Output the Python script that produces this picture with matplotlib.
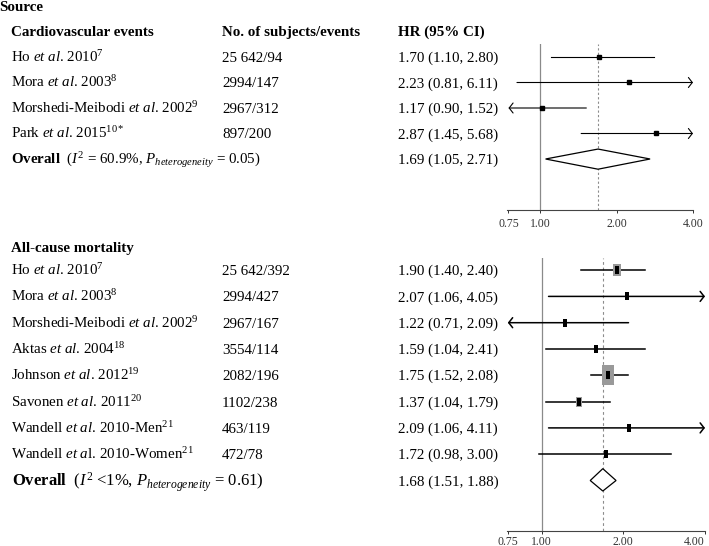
import matplotlib
matplotlib.use("Agg")
import matplotlib.pyplot as plt
from matplotlib.transforms import blended_transform_factory, offset_copy
from matplotlib.ticker import NullLocator

plt.rcParams["font.family"] = ["Liberation Serif", "DejaVu Serif"]
plt.rcParams["mathtext.fontset"] = "custom"
plt.rcParams["mathtext.rm"] = "Liberation Serif"
plt.rcParams["mathtext.it"] = "Liberation Serif:italic"
plt.rcParams["mathtext.bf"] = "Liberation Serif:bold"

# --- Cardiovascular events ---
cv_names = [r"Ho $\mathit{et\ al}$. 2010$^{7}$",
            r"Mora $\mathit{et\ al}$. 2003$^{8}$",
            r"Morshedi-Meibodi $\mathit{et\ al}$. 2002$^{9}$",
            r"Park $\mathit{et\ al}$. 2015$^{10*}$"]
cv_counts = ["25 642/94", "2994/147", "2967/312", "897/200"]
cv_hr_text = ["1.70 (1.10, 2.80)", "2.23 (0.81, 6.11)",
              "1.17 (0.90, 1.52)", "2.87 (1.45, 5.68)"]
# positions of the marks as they are drawn in the picture
cv_est = [1.70, 2.23, 1.02, 2.87]
cv_lo = [1.10, 0.81, 0.70, 1.45]
cv_hi = [2.80, 6.11, 1.52, 5.68]
cv_overall = [1.69, 1.05, 2.71]
cv_overall_label = r"$\mathbf{Overall}$  ($I^2$ = 60.9%, $P_{heterogeneity}$ = 0.05)"
cv_overall_text = "1.69 (1.05, 2.71)"

# --- All-cause mortality ---
ac_names = [r"Ho $\mathit{et\ al}$. 2010$^{7}$",
            r"Mora $\mathit{et\ al}$. 2003$^{8}$",
            r"Morshedi-Meibodi $\mathit{et\ al}$. 2002$^{9}$",
            r"Aktas $\mathit{et\ al}$. 2004$^{18}$",
            r"Johnson $\mathit{et\ al}$. 2012$^{19}$",
            r"Savonen $\mathit{et\ al}$. 2011$^{20}$",
            r"Wandell $\mathit{et\ al}$. 2010-Men$^{21}$",
            r"Wandell $\mathit{et\ a}$l. 2010-Women$^{21}$"]
ac_counts = ["25 642/392", "2994/427", "2967/167", "3554/114",
             "2082/196", "1102/238", "463/119", "472/78"]
ac_hr_text = ["1.90 (1.40, 2.40)", "2.07 (1.06, 4.05)", "1.22 (0.71, 2.09)",
              "1.59 (1.04, 2.41)", "1.75 (1.52, 2.08)", "1.37 (1.04, 1.79)",
              "2.09 (1.06, 4.11)", "1.72 (0.98, 3.00)"]
ac_est = [1.90, 2.07, 1.22, 1.59, 1.75, 1.37, 2.09, 1.72]
ac_lo = [1.40, 1.06, 0.71, 1.04, 1.52, 1.04, 1.06, 0.98]
ac_hi = [2.40, 4.05, 2.09, 2.41, 2.08, 1.79, 4.11, 3.00]
ac_weight_box = [8.6, 5.8, 5.8, 5.8, 13.7, 7.9, 5.8, 5.8]  # gray box height (pt)
ac_overall = [1.68, 1.51, 1.88]
ac_overall_label = r"$\mathbf{Overall}$  ($I^2$ <1%, $P_{heterogeneity}$ = 0.61)"
ac_overall_text = "1.68 (1.51, 1.88)"

tick_vals = [0.75, 1.0, 2.0, 4.0]
tick_labels = ["0.75", "1.00", "2.00", "4.00"]

W, H = 709, 546
fig = plt.figure(figsize=(W / 100, H / 100), dpi=100)

FS = 10.8
COL_NAME = 11 / W
COL_N = 222 / W
COL_HR = 398 / W

# tall narrow box marker
box = [(-0.31, -0.5), (0.31, -0.5), (0.31, 0.5), (-0.31, 0.5), (-0.31, -0.5)]


def setup_axis(ax, xlim, ylim, pad):
    ax.set_xscale("log")
    ax.set_xlim(*xlim)
    ax.set_ylim(*ylim)
    ax.set_xticks(tick_vals)
    ax.set_xticklabels(tick_labels)
    ax.xaxis.set_minor_locator(NullLocator())
    ax.tick_params(axis="x", direction="out", length=2.5, width=0.7,
                   labelsize=8.5, pad=pad, colors="#333333")
    ax.set_yticks([])
    for s in ["left", "right", "top"]:
        ax.spines[s].set_visible(False)
    ax.spines["bottom"].set_color("#444444")
    ax.spines["bottom"].set_linewidth(0.8)
    ax.patch.set_alpha(0)
    ax.axvline(1.0, color="#8a8a8a", lw=0.9, zorder=1)


def put_text(ax, x, row, s, size=FS, weight="normal", dy=-5):
    tr = blended_transform_factory(fig.transFigure, ax.transData)
    tr = offset_copy(tr, fig=fig, y=dy, units="dots")
    ax.text(x, row, s, transform=tr, fontsize=size, fontweight=weight,
            va="baseline", ha="left", clip_on=False)


def draw_ci(ax, y, lo, hi, lw):
    left = max(lo, 0.75)
    right = min(hi, 4.0)
    arrow = dict(arrowstyle="->,head_length=0.28,head_width=0.36",
                 lw=lw, color="black", shrinkA=0, shrinkB=0, mutation_scale=10)
    if hi > 4.0:
        ax.annotate("", xy=(right, y), xytext=(left, y), arrowprops=arrow, zorder=2)
    elif lo < 0.75:
        ax.annotate("", xy=(left, y), xytext=(right, y), arrowprops=arrow, zorder=2)
    else:
        ax.plot([left, right], [y, y], color="black", lw=lw, zorder=2)


def draw_diamond(ax, y, est, lo, hi, up, down):
    ax.fill([lo, est, hi, est, lo], [y, y - up, y, y + down, y],
            facecolor="white", edgecolor="black", lw=0.9, zorder=3)


# ---------------- top panel ----------------
ax1 = fig.add_axes([507 / W, 1 - 210 / H, 186 / W, 165.75 / H])
setup_axis(ax1, (0.74, 4.0), (6.0, -0.5), 3.5)
ax1.axvline(cv_overall[0], color="#8c8c8c", lw=0.8, ls=(0, (2, 2)), zorder=1)

put_text(ax1, -1 / W, -2.0, "Source", weight="bold")
put_text(ax1, COL_NAME, -1.02, "Cardiovascular events", weight="bold")
put_text(ax1, COL_N, -1.02, "No. of subjects/events", weight="bold")
put_text(ax1, COL_HR, -1.02, "HR (95% CI)", weight="bold")

for i in range(len(cv_names)):
    put_text(ax1, COL_NAME, i, cv_names[i])
    put_text(ax1, COL_N, i, cv_counts[i])
    put_text(ax1, COL_HR, i, cv_hr_text[i])
    draw_ci(ax1, i, cv_lo[i], cv_hi[i], 0.8)
    ax1.plot(cv_est[i], i, marker="s", ms=3.2, color="black", zorder=4)

n1 = len(cv_names)
put_text(ax1, COL_NAME, n1, cv_overall_label)
put_text(ax1, COL_HR, n1, cv_overall_text)
draw_diamond(ax1, n1, *cv_overall, 0.39, 0.4)

# ---------------- bottom panel ----------------
ax2 = fig.add_axes([507 / W, 1 - 531 / H, 198 / W, 273 / H])
setup_axis(ax2, (0.745, 4.0), (9.92, -0.46), 1.0)
ax2.axvline(ac_overall[0], color="#8c8c8c", lw=0.8, ls=(0, (2.5, 2.5)), zorder=1)
# last tick label sits against the right edge of the picture
ax2.get_xticklabels()[-1].set_horizontalalignment("right")

put_text(ax2, COL_NAME, -0.87, "All-cause mortality", weight="bold")

for i in range(len(ac_names)):
    put_text(ax2, COL_NAME, i, ac_names[i])
    put_text(ax2, COL_N, i, ac_counts[i])
    put_text(ax2, COL_HR, i, ac_hr_text[i])
    draw_ci(ax2, i, ac_lo[i], ac_hi[i], 1.1)
    ax2.plot(ac_est[i], i, marker=box, ms=ac_weight_box[i], color="#999999",
             mew=0, zorder=3)
    ax2.plot(ac_est[i], i, marker=box, ms=5.8, color="black", mew=0, zorder=4)

n2 = len(ac_names)
put_text(ax2, 12 / W, n2, ac_overall_label, size=12, dy=-6)
put_text(ax2, COL_HR, n2, ac_overall_text)
draw_diamond(ax2, n2, *ac_overall, 0.45, 0.4)

fig.savefig("out.png", dpi=100)
